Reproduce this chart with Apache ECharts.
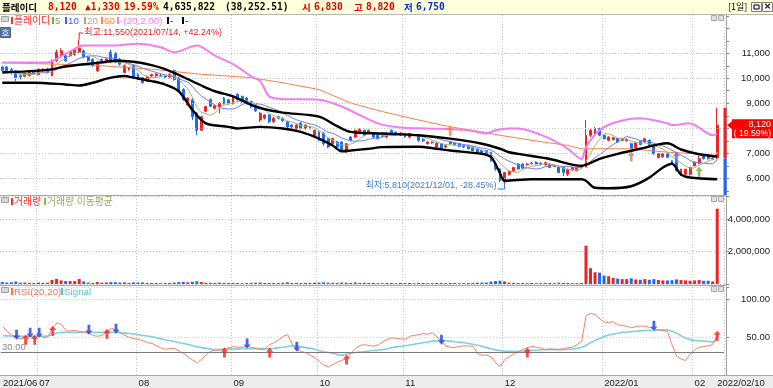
<!DOCTYPE html>
<html>
<head>
<meta charset="utf-8">
<title>플레이디</title>
<script src="https://cdn.jsdelivr.net/npm/echarts@6/dist/echarts.min.js"></script>
<style>
html,body{margin:0;padding:0;background:#fff;overflow:hidden}
#chart{width:773px;height:388px}
</style>
</head>
<body>
<div id="chart"></div>
<script>
// ---------- trading days ----------
const jun2021 = [21,22,23,24,25,28,29,30];
const jul2021 = [1,2,5,6,7,8,9,12,13,14,15,16,19,20,21,22,23,26,27,28,29,30];
const aug2021 = [2,3,4,5,6,9,10,11,12,13,17,18,19,20,23,24,25,26,27,30,31];
const sep2021 = [1,2,3,6,7,8,9,10,13,14,15,16,17,23,24,27,28,29,30];
const oct2021 = [1,5,6,7,8,12,13,14,15,18,19,20,21,22,25,26,27,28,29];
const nov2021 = [1,2,3,4,5,8,9,10,11,12,15,16,17,18,19,22,23,24,25,26,29,30];
const dec2021 = [1,2,3,6,7,8,9,10,13,14,15,16,17,20,21,22,23,24,27,28,29,30];
const jan2022 = [3,4,5,6,7,10,11,12,13,14,17,18,19,20,21,24,25,26,27,28];
const feb2022 = [3,4,7,8,9,10];

// x axis tick labels (index of category -> label)
const xTickIdx = [0,8,30,51,70,89,111,133,153,158];
const xTickLabels = ['2021/06','07','08','09','10','11','12','2022/01','02','2022/02/10'];
const monthStartIdx = [8,30,51,70,89,111,133,153];

// ---------- price (OHLC) ----------
const opens = [10450,10450,10350,10300,10100,10080,10100,10250,10150,10300,
10250,10100,10700,10900,10900,10900,10950,11050,11100,10850,
10750,10300,10750,10650,11050,11000,10770,10230,10350,10500,
10150,10020,9870,10090,10100,10110,10110,10050,10300,10000,
9550,8940,9140,8600,7920,8680,9140,8800,8870,9210,
9140,9000,9350,9280,9210,9070,8940,8330,8400,8530,
8260,8460,8400,8260,8130,8000,8200,8000,8050,7720,
7850,7800,7590,7380,7450,7450,7050,7650,7650,7850,
7920,7820,7800,7720,7720,7650,7920,7850,7720,7790,
7650,7720,7720,7550,7380,7450,7250,7380,7250,7450,
7400,7380,7330,7310,7250,7180,7120,7110,7040,6570,
6370,5850,6160,6300,6570,6570,6540,6580,6640,6600,
6540,6570,6480,6440,6430,6160,6330,6300,6420,6450,
7720,7790,7990,7720,7520,7550,7590,7520,7500,7380,
7220,7480,7450,7520,7310,6830,6860,6980,6700,6640,
6120,6160,6160,6500,6600,6920,6920,6760,6830];
const closes = [10300,10250,10230,10020,10060,10200,10250,10200,10350,10330,
10350,10700,11050,11100,10700,11050,11150,11200,10850,10700,
10500,10650,10620,10770,10630,10640,10560,10500,10420,10050,
9990,9820,10060,10150,10170,10100,10050,10150,9950,9480,
9140,9210,8460,7920,8460,8870,8880,8900,9000,9000,
9000,9210,9140,9070,9020,8870,8700,8600,8530,8260,
8400,8400,8300,8060,8060,8130,8000,8130,8000,7920,
7520,7380,7250,7590,7250,7110,7380,7520,7920,7950,
7720,7920,7650,7580,7680,7810,7790,7720,7810,7650,
7790,7750,7520,7500,7450,7420,7400,7180,7300,7380,
7350,7270,7250,7180,7110,7040,7000,6980,6700,6370,
5900,6230,6280,6430,6370,6400,6570,6600,6570,6560,
6630,6430,6500,6230,6230,6360,6430,6430,6450,7720,
7920,7990,7720,7580,7650,7620,7450,7580,7550,7180,
7420,7350,7580,7320,6980,6980,6980,6840,6570,6300,
6360,6360,6430,6640,6780,6780,6780,6790,8120];
const lows = [10250,10200,10150,9880,9950,10050,10080,10150,10120,10250,
10200,10080,10650,10850,10650,10850,10900,11000,10800,10650,
10450,10250,10580,10600,10600,10600,10500,10200,10300,10000,
9950,9800,9850,10050,10050,10050,10000,10000,9900,9450,
9100,8900,8330,7720,7900,8650,8850,8750,8600,8950,
8950,8950,9100,9000,8950,8800,8650,8250,8350,8200,
8200,8350,8250,7920,8000,7850,7950,7950,7950,7700,
7480,7300,7200,7350,7200,7080,7030,7480,7620,7800,
7700,7800,7600,7550,7650,7600,7750,7700,7700,7620,
7600,7700,7450,7450,7350,7380,7220,7150,7200,7350,
7300,7250,7200,7150,7080,7000,6950,6950,6650,6300,
5850,5810,6100,6250,6350,6380,6500,6550,6550,6520,
6500,6400,6450,6200,6090,6090,6300,6280,6400,6430,
7650,7750,7680,7550,7480,7520,7420,7500,7480,7150,
7200,7320,7420,7300,6950,6800,6820,6800,6550,6270,
6100,6140,6100,6480,6560,6750,6750,6730,6750];
const highs = [10500,10500,10420,10330,10150,10230,10280,10290,10400,10400,
10420,10750,11150,11200,11000,11100,11200,11550,11150,10900,
10800,10700,10800,10800,11150,11050,10800,10550,10450,10550,
10200,10050,10100,10180,10200,10200,10150,10200,10350,10050,
9600,9250,9200,8650,8500,8900,9200,8950,9050,9250,
9180,9250,9400,9300,9250,9100,8950,8650,8560,8560,
8450,8500,8430,8300,8150,8160,8250,8150,8100,7950,
7900,7850,7620,7620,7500,7480,7400,7680,7950,8000,
7950,7950,7850,7750,7750,7850,7950,7880,7850,7820,
7820,7780,7750,7600,7480,7480,7450,7400,7350,7480,
7450,7420,7350,7350,7280,7200,7150,7130,7060,6600,
6400,6250,6320,6450,6600,6600,6600,6650,6680,6640,
6650,6600,6550,6460,6450,6380,6450,6450,6480,8330,
7980,8050,8020,7760,7680,7660,7620,7620,7600,7420,
7450,7500,7620,7560,7330,7000,7000,7020,6720,6660,
6380,6380,6460,6660,6900,6950,6950,6830,8820];

// ---------- volume ----------
const volumes = [120000,90000,110000,150000,80000,90000,70000,60000,90000,70000,
80000,250000,310000,220000,180000,180000,180000,310000,160000,80000,
70000,120000,80000,90000,120000,110000,90000,100000,70000,100000,
90000,100000,70000,60000,60000,50000,60000,70000,90000,120000,
130000,100000,140000,170000,120000,80000,70000,60000,80000,70000,
60000,70000,60000,50000,60000,70000,80000,90000,60000,70000,
60000,60000,80000,110000,60000,70000,60000,70000,60000,80000,
90000,100000,80000,70000,70000,90000,80000,60000,90000,60000,
70000,60000,60000,50000,50000,60000,60000,50000,60000,60000,
60000,50000,70000,60000,50000,50000,60000,70000,50000,60000,
60000,50000,60000,60000,70000,80000,90000,90000,150000,180000,
200000,160000,80000,70000,60000,60000,50000,60000,50000,50000,
60000,60000,50000,80000,70000,60000,50000,50000,60000,2360000,
970000,720000,700000,520000,480000,380000,330000,300000,300000,350000,
280000,260000,300000,260000,300000,250000,220000,220000,230000,280000,
240000,220000,200000,220000,240000,200000,200000,160000,4635822];

// ---------- RSI(20,20) & signal ----------
const rsi = [63,57,52,48.5,48,50.8,51.7,47.6,53,49,
50.4,62,68.6,66,58,58,58.6,57,56.5,55,
51.7,51,52,57,61.5,59,55.5,52,49.5,47.6,
46.8,45,42.5,41.5,38.5,35.5,33.8,35,35,31.5,
28,23.5,19.5,16,21,27,31.3,32.3,33,34,
35.8,37.5,36.5,36.8,37.5,36.3,35,33.4,34,40,
42.7,46,51,53,40,33.5,30.8,29.5,26,22.5,
18,13,10.8,13.8,17,19.5,21,29,35,38.8,
39.8,38.8,37.9,39.6,43.5,46.8,48.8,48.2,47.5,46.8,
51,52,53,54.5,53.5,55.5,50.2,44.3,38,36.4,
36.2,37.7,38.3,38.3,37.7,28,26,26,24,16,
11,20.4,24,27.5,30.5,33.5,36,37.5,36.5,35.3,
33.6,34.3,34,33.5,34.8,35.8,36.4,40,44,78,
81,79.5,74,69.5,69,70.2,66,64.7,64.2,62,
63.5,64.5,64,62.5,61,59,58.6,57,40,25,
21,19,27.5,33,36.3,37.6,38.3,40,53];
const signal = [51.7,51.5,51.3,51,51,51,51,51,51,51,
51.5,53,55.6,56,56,56,56,56,56,56,
56,56,56,56,56,56,55.5,55,54.5,54,
53,52,51.3,50.4,49,47.5,46,45,44,42.5,
41.3,40,38.5,37,36,35,34,33.5,33.4,34,
34.3,34.3,34.4,34.7,34.7,34.7,34.7,34.7,34.7,34.5,
35,36,36.5,37.5,38.6,38,37,36,35,34,
32,30.5,29.5,28.2,27,25.8,27.5,28.5,29.5,30.3,
31,31.6,32.2,32.8,33.4,34.5,36,37,37.7,38.5,
39.5,40.5,41.5,42.5,43.5,44.5,45.2,45.2,45,44.5,
43.8,43.2,42.5,41.5,40.4,39,37.8,36,34.5,33,
32,31.4,31.2,31.2,31.3,31.6,32,32.4,32.6,32.9,
33.2,33.4,33.4,33.4,33.4,33.6,34.2,35,36.5,39,
42.5,45.5,48,50.5,52.5,54,55,56,56.5,57,
57.5,58,58.5,58.8,59,59.3,59.5,59.3,57.5,55,
51.5,48.5,46.5,45.5,45,44.5,44,43.2,46];
const rsiUpIdx = [5,7,11,23,49,59,76,116,158];
const rsiUpVal = [46.5,46.5,58.2,54.3,29.5,29.5,20.4,29.5,51.7];
const rsiDownIdx = [3,6,8,19,25,54,65,97,144];
const rsiDownVal = [53,55.6,55.6,59.5,60.8,41.3,37.3,46.5,64.8];

// ---------- overlay lines: [barIndex, value] ----------
const pinkLine = [[0,10634],[10,10634],[14,10972],[18,11310],[24,11310],[30,11378],[35,11240],[38,11041],[43,11310],[47,10902],[51,10565],[55,10080],[57,9886],[59,9276],[62,9170],[70,9142],[75,8870],[83,8195],[88,8033],[94,7992],[103,7923],[107,7788],[109,7923],[112,7990],[114,7990],[121,7585],[125,7180],[128,6772],[129,7245],[132,7923],[136,8260],[141,8398],[147,8195],[148,8126],[152,8195],[157,7720],[158,7788]];
const bandUpper = [[0,10228],[10,10335],[14,10470],[22,10634],[25,10699],[29,10660],[33,10525],[36,10362],[40,10050],[44,9710],[47,9480],[51,9276],[55,8939],[58,8760],[62,8626],[70,8463],[74,8085],[77,7854],[84,7788],[92,7720],[99,7585],[106,7382],[110,7180],[112,7041],[114,6975],[121,6772],[128,6500],[129,6540],[132,6772],[136,6975],[141,7180],[145,7354],[147,7400],[150,7150],[154,6960],[158,6866]];
const bandLower = [[0,9821],[7,9821],[14,9750],[17,9710],[20,9821],[24,10024],[27,10089],[29,10024],[33,9886],[36,9750],[39,9480],[42,8736],[45,8195],[50,8057],[52,7992],[57,8057],[62,7992],[66,7854],[70,7585],[73,7313],[75,7082],[77,7110],[81,7180],[84,7245],[92,7260],[96,7180],[99,7110],[106,6975],[108,6850],[109,6569],[110,6200],[111,5900],[117,5960],[128,5960],[129,5900],[131,5618],[134,5600],[139,5680],[143,6024],[146,6431],[148,6580],[150,6150],[152,6030],[158,5960]];
const ma60Line = [[0,10620],[20,10525],[33,10362],[44,10159],[55,10024],[62,9821],[70,9549],[77,9008],[84,8667],[92,8329],[99,8057],[106,7854],[110,7720],[117,7516],[125,7313],[128,7179],[139,7179],[147,7041],[154,6976],[158,6908]];

// price-panel signal arrows
const priceSigIdx = [99,139,149,154];
const priceSigVal = [7900,6870,6850,6260];

// axis tick values
const priceTickVals = [6000,7000,8000,9000,10000,11000];
const priceMinorTicks = [5500,6000,6500,7000,7500,8000,8500,9000,9500,10000,10500,11000,11500,12000,12500];

// header values
const hdrName = '플레이디', hdrPrice = '8,120', hdrChg = '▲1,330', hdrPct = '19.59%';
const hdrVol = '4,635,822', hdrAmt = '(38,252.51)', hdrOpen = '6,830', hdrHigh = '8,820', hdrLow = '6,750';
const hiNote = '최고:11,550(2021/07/14, +42.24%)', loNote = '최저:5,810(2021/12/01, -28.45%)';
const hiIdx = 17, hiVal = 11550, loIdx = 111, loVal = 5810;
const lastClose = 8120, prevClose = 6790, lastHigh = 8820;

// ---------- build ----------
const monthList = [['2021/06',jun2021],['2021/07',jul2021],['2021/08',aug2021],['2021/09',sep2021],['2021/10',oct2021],['2021/11',nov2021],['2021/12',dec2021],['2022/01',jan2022],['2022/02',feb2022]];
const dates = [];
monthList.forEach(([m, days]) => days.forEach(d => dates.push(m + '/' + String(d).padStart(2,'0'))));
const cats = dates.concat(['']);
const labelMap = {}; xTickIdx.forEach((k, j) => labelMap[k] = xTickLabels[j]);
const gridSet = new Set(monthStartIdx);

const UP = '#ee2222', DN = '#1c6cf0';
const FONT = "'Liberation Sans', Arial, sans-serif";
const KFONT = "'Liberation Sans', 'Noto Sans CJK KR', sans-serif";
const GRIDC = '#c4c4c4';

const ohlc = opens.map((o, i) => [o, closes[i], lows[i], highs[i]]);
const volData = volumes.map((v, i) => ({ value: v, itemStyle: { color: closes[i] >= opens[i] ? UP : DN } }));
function movingAvg(arr, n) {
  return arr.map((_, i) => { const s = arr.slice(Math.max(0, i - n + 1), i + 1); return Math.round(s.reduce((a, b) => a + b, 0) / s.length); });
}
const ma5 = movingAvg(closes, 5), ma10 = movingAvg(closes, 10);

const UPARROW = 'path://M5 0L10 5H7V12H3V5H0Z';
const DNARROW = 'path://M3 0H7V7H10L5 12L0 7H3Z';
const sigColors = ['#ff7a30', '#b09070', '#3a6cf0', '#70a840'];

const W = 725;
const grids = [
  { left: 0, top: 15, width: W, height: 180 },
  { left: 0, top: 196, width: W, height: 88 },
  { left: 0, top: 287, width: W, height: 88.6 }
];
const xAxes = [0, 1, 2].map(g => ({
  type: 'category', gridIndex: g, data: cats, boundaryGap: true,
  axisLine: { show: false }, axisTick: { show: false },
  axisLabel: {
    show: g === 2, interval: (idx) => labelMap[idx] !== undefined,
    formatter: (val, idx) => labelMap[idx] !== undefined ? labelMap[idx] : '',
    align: 'left', margin: 3, fontSize: 9.5, color: '#222', fontFamily: FONT
  },
  splitLine: { show: true, interval: (idx) => gridSet.has(idx), lineStyle: { color: GRIDC, type: [1, 2], width: 1 } }
}));
const axisLineStyle = { show: true, lineStyle: { color: '#a0a0a0', width: 1 } };
const yAxes = [
  { type: 'value', gridIndex: 0, position: 'right', offset: 2, min: 5330, max: 12530,
    splitLine: { show: false }, axisLine: axisLineStyle,
    axisTick: { show: true, length: 3, customValues: priceMinorTicks, lineStyle: { color: '#888' } },
    axisLabel: { customValues: priceTickVals, formatter: v => v.toLocaleString('en-US'), align: 'right', margin: 44, fontSize: 9.5, color: '#222', fontFamily: FONT } },
  { type: 'value', gridIndex: 1, position: 'right', offset: 2, min: 0, max: 5415000, interval: 2000000,
    splitLine: { show: true, lineStyle: { color: GRIDC, type: [1, 2] } }, axisLine: axisLineStyle,
    axisTick: { show: true, length: 3, lineStyle: { color: '#888' } },
    axisLabel: { formatter: v => (v > 0 && v % 2000000 === 0) ? v.toLocaleString('en-US') : '', align: 'right', margin: 44, fontSize: 9.5, color: '#222', fontFamily: FONT } },
  { type: 'value', gridIndex: 2, position: 'right', offset: 2, min: 0, max: 115.7, interval: 50,
    splitLine: { show: true, lineStyle: { color: GRIDC, type: [1, 2] } }, axisLine: axisLineStyle,
    axisTick: { show: true, length: 3, lineStyle: { color: '#888' } },
    axisLabel: { formatter: v => (v > 0 && v % 50 === 0) ? v.toFixed(2) : '', align: 'right', margin: 44, fontSize: 9.5, color: '#222', fontFamily: FONT } }
];

const series = [
  { type: 'line', xAxisIndex: 0, yAxisIndex: 0, data: [], z: 1, silent: true,
    markLine: { silent: true, symbol: ['none', 'none'], label: { show: false }, animation: false,
      lineStyle: { color: GRIDC, type: [1, 2], width: 1 }, data: priceTickVals.map(v => ({ yAxis: v })) } },
  { name: 'price', type: 'candlestick', xAxisIndex: 0, yAxisIndex: 0, data: ohlc, barWidth: 2.4, z: 3,
    itemStyle: { color: UP, color0: DN, borderColor: UP, borderColor0: DN, borderWidth: 1 } },
  { type: 'line', xAxisIndex: 0, yAxisIndex: 0, data: ma60Line, symbol: 'none', z: 4, lineStyle: { color: '#ff7f45', width: 1 } },
  { type: 'line', xAxisIndex: 0, yAxisIndex: 0, data: ma10, symbol: 'none', z: 4, lineStyle: { color: '#7878f0', width: 1 } },
  { type: 'line', xAxisIndex: 0, yAxisIndex: 0, data: ma5, symbol: 'none', z: 4, lineStyle: { color: '#9cbc6a', width: 1 } },
  { type: 'line', xAxisIndex: 0, yAxisIndex: 0, data: pinkLine, symbol: 'none', smooth: 0.3, z: 5, lineStyle: { color: '#f57cf0', width: 2 } },
  { type: 'line', xAxisIndex: 0, yAxisIndex: 0, data: bandUpper, symbol: 'none', smooth: 0.3, z: 5, lineStyle: { color: '#000', width: 2.4 } },
  { type: 'line', xAxisIndex: 0, yAxisIndex: 0, data: bandLower, symbol: 'none', smooth: 0.3, z: 5, lineStyle: { color: '#000', width: 2.4 } },
  { type: 'scatter', xAxisIndex: 0, yAxisIndex: 0, z: 6, symbol: UPARROW, symbolSize: [7, 10],
    data: priceSigIdx.map((k, j) => ({ value: [k, priceSigVal[j]], itemStyle: { color: sigColors[j] } })) },
  { type: 'bar', xAxisIndex: 1, yAxisIndex: 1, data: volData, barWidth: 3, z: 3 },
  { type: 'line', xAxisIndex: 2, yAxisIndex: 2, data: signal, symbol: 'none', z: 3, lineStyle: { color: '#7dd3dc', width: 1.6 },
    markLine: { silent: true, symbol: ['none', 'none'], label: { show: false }, animation: false,
      lineStyle: { color: '#7a7a7a', type: 'solid', width: 1 }, data: [{ yAxis: 30 }] } },
  { type: 'line', xAxisIndex: 2, yAxisIndex: 2, data: rsi, symbol: 'none', z: 4, lineStyle: { color: '#ff8060', width: 1 } },
  { type: 'scatter', xAxisIndex: 2, yAxisIndex: 2, z: 6, symbol: UPARROW, symbolSize: [7, 10], itemStyle: { color: '#ff1a1a' },
    data: rsiUpIdx.map((k, j) => [k, rsiUpVal[j]]) },
  { type: 'scatter', xAxisIndex: 2, yAxisIndex: 2, z: 6, symbol: DNARROW, symbolSize: [7, 10], itemStyle: { color: '#1f3fe6' },
    data: rsiDownIdx.map((k, j) => [k, rsiDownVal[j]]) }
];

const chart = echarts.init(document.getElementById('chart'), null, { renderer: 'canvas' });
chart.setOption({ animation: false, backgroundColor: '#ffffff', grid: grids, xAxis: xAxes, yAxis: yAxes, series: series });

// ---------- overlay graphics ----------
const px = (g, x, y) => chart.convertToPixel({ gridIndex: g }, [x, y]);
function T(x, y, text, fill, font, align) {
  return { type: 'text', z: 20, x: x, y: y, style: { text: text, fill: fill, font: font, textAlign: align || 'left', textVerticalAlign: 'middle', verticalAlign: 'middle' } };
}
function R(x, y, w, h, fill, stroke, z) {
  return { type: 'rect', z: z === undefined ? 20 : z, shape: { x: x, y: y, width: w, height: h }, style: { fill: fill, stroke: stroke || null, lineWidth: 1 } };
}
function L(x1, y1, x2, y2, stroke, lw, z) {
  return { type: 'line', z: z === undefined ? 20 : z, shape: { x1: x1, y1: y1, x2: x2, y2: y2 }, style: { stroke: stroke, lineWidth: lw || 1 } };
}
const g = [];
// header
g.push(R(0, 0, 773, 14, '#ffffdc', null, 19));
g.push(L(0, 14.5, 773, 14.5, '#b8b8b8', 1));
const HB = "bold 9.6px 'DejaVu Sans Mono', 'Noto Sans CJK KR', monospace";
const HK = "bold 9.5px 'Noto Sans CJK KR', sans-serif";
g.push(T(2, 7, hdrName, '#000', HK));
g.push(T(48, 7, hdrPrice, '#e00000', HB));
g.push(T(85, 7, hdrChg, '#e00000', HB));
g.push(T(124, 7, hdrPct, '#e00000', HB));
g.push(T(163, 7, hdrVol, '#000', HB));
g.push(T(225, 7, hdrAmt, '#000', HB));
g.push(T(302, 7, '시', '#e00000', HK));
g.push(T(314, 7, hdrOpen, '#e00000', HB));
g.push(T(354, 7, '고', '#e00000', HK));
g.push(T(366, 7, hdrHigh, '#e00000', HB));
g.push(T(404, 7, '저', '#0030d0', HK));
g.push(T(416, 7, hdrLow, '#0030d0', HB));
g.push(T(728, 7, '[1일]', '#000', "9px 'Noto Sans CJK KR', sans-serif"));
g.push(R(751.5, 2.5, 10, 9, '#f4f4f4', '#808080'));
g.push(R(754, 5, 5, 4, null, '#000'));
g.push(R(762.5, 2.5, 10, 9, '#f4f4f4', '#808080'));
g.push(T(767.5, 7, '×', '#000', "bold 9px 'DejaVu Sans', sans-serif", 'center'));
// bottom row + separators
g.push(R(0, 376, 773, 12, '#ececec', null, -1));
g.push(L(0, 195.5, 727, 195.5, '#a8a8a8', 1));
g.push(L(0, 285.5, 727, 285.5, '#a8a8a8', 1));
g.push(L(0, 375.5, 773, 375.5, '#a8a8a8', 1));
// panel icons
[[17, 21], [198, 203], [288, 293]].forEach(([yy, yl]) => {
  g.push(R(1.5, yy - 0.5, 7, 5, '#d8d8d8', '#a0a0a0'));
  g.push(R(711.5, yy - 1.5, 5, 5, '#e0e0e0', '#a8a8a8'));
  g.push(R(718.5, yy - 1.5, 5, 5, '#e0e0e0', '#a8a8a8'));
});
// legends
const LF = "9.8px " + KFONT;
function legend(items, y) {
  items.forEach(([mx, tx, text, col]) => { g.push(R(mx, y - 4, 2, 7, col)); g.push(T(tx, y, text, col, LF)); });
}
legend([[11, 14, '플레이디', '#ff2a2a'], [52, 55, '5', '#78a848'], [65, 68, '10', '#3c5cff'], [84, 87, '20', '#c0a078'], [101, 104, '60', '#ff8a3c'], [117, 120, '-(20,2.00)', '#ff78ff'], [167, 170, '-', '#000'], [182, 185, '-', '#000']], 21);
legend([[11, 14, '거래량', '#ff2a2a'], [44, 47, '거래량 이동평균', '#90b060']], 202);
legend([[11, 14, 'RSI(20,20)', '#ff7050'], [61, 64, 'Signal', '#50c8d0']], 292);
g.push(R(0.5, 27.5, 10, 10, '#5a7aaa', '#47648f'));
g.push(T(5.5, 32.5, '호', '#fff', "8px 'Noto Sans CJK KR', sans-serif", 'center'));
g.push(T(2, 347, '30.00', '#8c8c8c', "9.5px " + FONT));
// high / low annotations
const hp = px(0, hiIdx, hiVal);
g.push(L(hp[0], hp[1], hp[0], 33, '#ee2222', 1));
g.push(L(hp[0], 33, hp[0] + 4, 33, '#ee2222', 1));
g.push(T(hp[0] + 5, 33, hiNote, '#ee2222', "9px " + KFONT));
const lp = px(0, loIdx, loVal);
g.push(L(lp[0], lp[1], lp[0], lp[1] + 6, '#3a78e0', 1));
g.push(L(lp[0] - 7, lp[1] + 6, lp[0], lp[1] + 6, '#3a78e0', 1));
g.push(T(lp[0] - 8, lp[1] + 3, loNote, '#3a78e0', "9px " + KFONT, 'right'));
// right axis: day range bar + price tag
const yHi = px(0, 158, lastHigh)[1], yPrev = px(0, 158, prevClose)[1], yC = px(0, 158, lastClose)[1];
g.push(R(723.5, yHi, 3, yPrev - yHi, UP, null, 21));
g.push(R(723.5, yPrev, 3, 195 - yPrev, DN, null, 21));
g.push({ type: 'polygon', z: 21, shape: { points: [[727, yC], [732, yC - 4], [732, yC + 4]] }, style: { fill: '#ff0000' } });
g.push(R(732, yC - 6, 41, 19, '#ff0000', null, 21));
g.push(Object.assign(T(771, yC - 1, hdrPrice, '#fff', "9px " + FONT, 'right'), { z: 22 }));
g.push(Object.assign(T(771, yC + 8.5, '( ' + hdrPct + ')', '#fff', "8.6px " + FONT, 'right'), { z: 22 }));
chart.setOption({ graphic: { elements: g } });
</script>
</body>
</html>
